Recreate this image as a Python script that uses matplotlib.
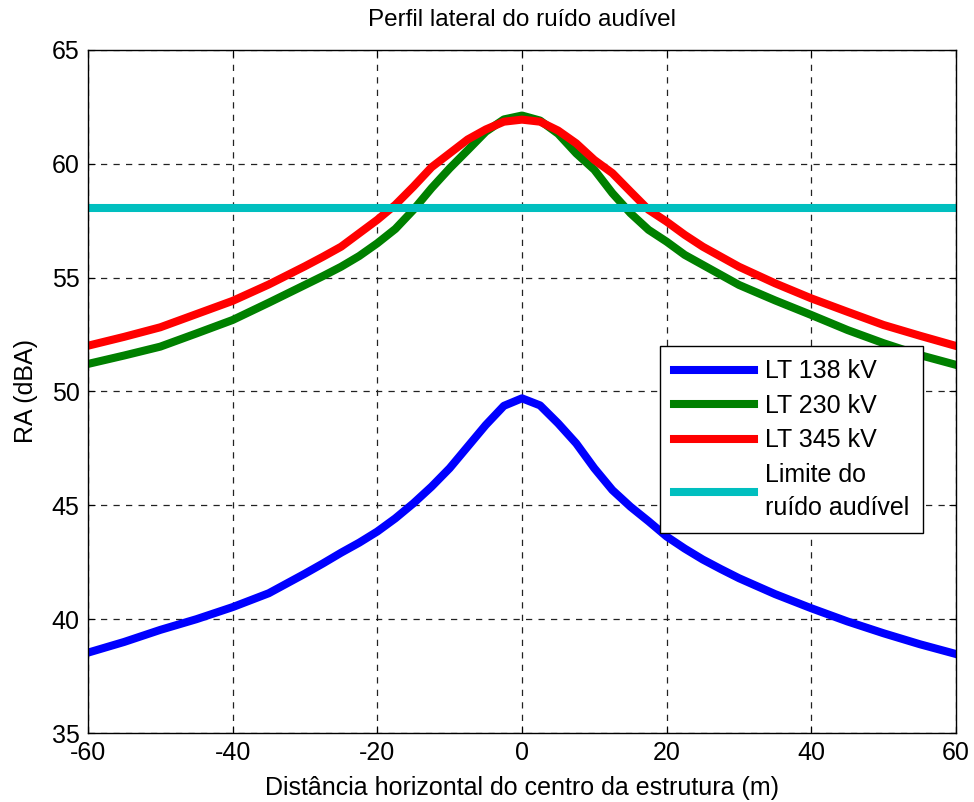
import matplotlib
matplotlib.use("Agg")
import matplotlib.pyplot as plt

plt.rcParams['font.family'] = ['Liberation Sans', 'DejaVu Sans']
plt.rcParams['axes.unicode_minus'] = False

# Horizontal distance from the structure centre (m)
dist = [-60, -55, -50, -45, -40, -35, -30, -27.5, -25, -22.5, -20, -17.5, -15, -12.5, -10, -7.5, -5, -2.5,
        0, 2.5, 5, 7.5, 10, 12.5, 15, 17.5, 20, 22.5, 25, 27.5, 30, 35, 40, 45, 50, 55, 60]

# Audible noise (dBA)
ra_138 = [38.53, 39.0, 39.53, 40.0, 40.53, 41.14, 42.0, 42.45, 42.92, 43.36, 43.85, 44.43, 45.09, 45.82, 46.63, 47.58, 48.53, 49.37,
          49.7, 49.39, 48.6, 47.72, 46.63, 45.67, 44.94, 44.3, 43.63, 43.1, 42.62, 42.2, 41.8, 41.1, 40.48, 39.9, 39.38, 38.9, 38.47]
ra_230 = [51.21, 51.58, 51.97, 52.55, 53.14, 53.9, 54.68, 55.07, 55.48, 55.95, 56.51, 57.14, 57.98, 58.93, 59.8, 60.6, 61.41, 61.95,
          62.12, 61.9, 61.32, 60.46, 59.74, 58.71, 57.83, 57.1, 56.58, 56.0, 55.56, 55.12, 54.68, 54.0, 53.36, 52.7, 52.12, 51.6, 51.17]
ra_345 = [52.01, 52.4, 52.82, 53.4, 53.98, 54.7, 55.5, 55.92, 56.36, 56.95, 57.54, 58.2, 59.0, 59.85, 60.46, 61.07, 61.51, 61.85,
          61.94, 61.85, 61.46, 60.9, 60.17, 59.59, 58.78, 57.98, 57.46, 56.88, 56.36, 55.92, 55.48, 54.75, 54.09, 53.5, 52.92, 52.45, 52.0]
limite = 58.05

labels = ['LT 138 kV', 'LT 230 kV', 'LT 345 kV', 'Limite do\nruído audível']
xticks = [-60, -40, -20, 0, 20, 40, 60]
yticks = [35, 40, 45, 50, 55, 60, 65]

fig = plt.figure(figsize=(9.74, 8.02), dpi=100)
ax = fig.add_axes([0.0903, 0.086, 0.8912, 0.8517])

lw = 5.8
ax.plot(dist, ra_138, color='#0000FF', lw=lw, label=labels[0], solid_joinstyle='round')
ax.plot(dist, ra_230, color='#008000', lw=lw, label=labels[1], solid_joinstyle='round')
ax.plot(dist, ra_345, color='#FF0000', lw=lw, label=labels[2], solid_joinstyle='round')
ax.axhline(limite, color='#00BFBF', lw=lw, label=labels[3])

ax.set_xlim(-60, 60)
ax.set_ylim(35, 65)
ax.set_xticks(xticks)
ax.set_yticks(yticks)
ax.grid(True, color='#222222', linestyle=(0, (5, 5)), linewidth=0.9)
ax.set_axisbelow(True)
ax.tick_params(direction='in', top=True, right=True, labelsize=18, length=5, width=0.8, pad=6)
for s in ax.spines.values():
    s.set_linewidth(1.0)

ax.set_title('Perfil lateral do ruído audível', fontsize=17.5, pad=17)
ax.set_xlabel('Distância horizontal do centro da estrutura (m)', fontsize=18, labelpad=8)
ax.set_ylabel('RA (dBA)', fontsize=18, labelpad=10)

leg = ax.legend(loc='upper right', bbox_to_anchor=(0.962, 0.567), fontsize=18,
                fancybox=False, framealpha=1, edgecolor='black', handlelength=3.2,
                borderpad=0.55, labelspacing=0.42, handletextpad=0.45, borderaxespad=0)
for t in leg.get_texts():
    t.set_linespacing(1.45)
leg.get_frame().set_linewidth(1.0)

fig.savefig('out.png', dpi=100)
